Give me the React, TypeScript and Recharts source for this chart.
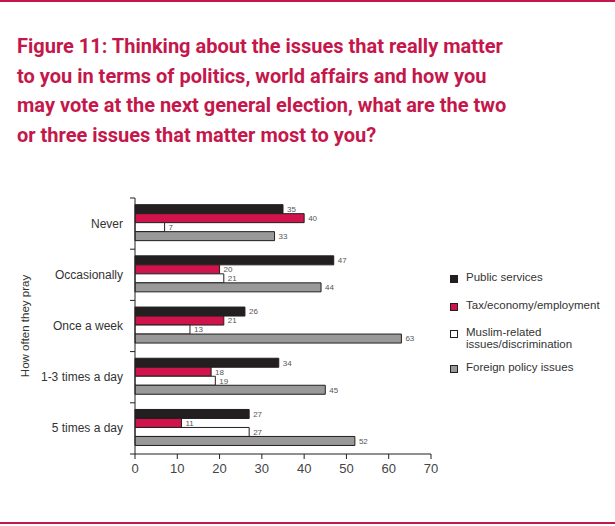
import React from "react";
import { Bar, BarChart, LabelList, XAxis, YAxis } from "recharts";

const categories = ["Never", "Occasionally", "Once a week", "1-3 times a day", "5 times a day"];
const publicServices = [35, 47, 26, 34, 27];
const taxEconomy = [40, 20, 21, 18, 11];
const muslimIssues = [7, 21, 13, 19, 27];
const foreignPolicy = [33, 44, 63, 45, 52];
const xTicks = [0, 10, 20, 30, 40, 50, 60, 70];

const series = [
  { key: "public", name: "Public services", color: "#231f20", values: publicServices },
  { key: "tax", name: "Tax/economy/employment", color: "#d0134a", values: taxEconomy },
  { key: "muslim", name: ["Muslim-related", "issues/discrimination"], color: "#ffffff", values: muslimIssues },
  { key: "foreign", name: "Foreign policy issues", color: "#999999", values: foreignPolicy },
];

const data = categories.map((c, i) => {
  const row: Record<string, string | number> = { name: c };
  series.forEach((s) => (row[s.key] = s.values[i]));
  return row;
});

const CRIMSON = "#c4174b";
const W = 615;
const H = 526;
const PLOT_TOP = 198;
const PLOT_BOTTOM = 454;
const PLOT_LEFT = 135;
const PLOT_RIGHT = 431;
const Y_AXIS_W = 110;
const X_AXIS_H = 30;
const BAND = (PLOT_BOTTOM - PLOT_TOP) / categories.length;

// category ticks sit on the band edges, labels at the band centre
function CategoryTick(props: any) {
  const { y, payload, index } = props;
  const top = y - BAND / 2;
  const isLast = index === categories.length - 1;
  return (
    <g>
      <line x1={PLOT_LEFT - 5} x2={PLOT_LEFT} y1={top} y2={top} stroke="#231f20" />
      {isLast ? <line x1={PLOT_LEFT - 5} x2={PLOT_LEFT} y1={top + BAND} y2={top + BAND} stroke="#231f20" /> : null}
      <text x={PLOT_LEFT - 12} y={y} dy={4} textAnchor="end" fontSize={12} fill="#333">
        {payload.value}
      </text>
    </g>
  );
}

function LegendBox() {
  const tops = [271, 299, 326, 361];
  return (
    <div style={{ position: "absolute", left: 450, top: 0 }}>
      {series.map((s, i) => (
        <div key={s.key} style={{ position: "absolute", top: tops[i], left: 0, display: "flex", alignItems: "flex-start", whiteSpace: "nowrap" }}>
          <div
            style={{
              width: 6,
              height: 6,
              marginTop: 3.5,
              marginRight: 8,
              background: s.color,
              border: "1px solid #231f20",
            }}
          />
          <div style={{ fontSize: 11.5, color: "#333", lineHeight: "12px" }}>
            {Array.isArray(s.name) ? s.name.map((l) => <div key={l}>{l}</div>) : s.name}
          </div>
        </div>
      ))}
    </div>
  );
}

export default function App() {
  return (
    <div style={{ position: "relative", width: W, height: H, background: "#fff", fontFamily: "'Liberation Sans', Arial, sans-serif", overflow: "hidden" }}>
      <style>{`body{margin:0}`}</style>
      <div style={{ position: "absolute", left: 0, top: 0, width: W, height: 1.5, background: CRIMSON }} />
      <div style={{ position: "absolute", left: 0, top: 522, width: W, height: 1.5, background: CRIMSON }} />
      <div
        style={{
          position: "absolute",
          left: 17,
          top: 32,
          width: 598,
          color: CRIMSON,
          fontFamily: "Roboto, sans-serif",
          fontSize: 20,
          fontWeight: 700,
          lineHeight: "29.5px",
          whiteSpace: "nowrap",
        }}
      >
        Figure 11: Thinking about the issues that really matter
        <br />
        to you in terms of politics, world affairs and how you
        <br />
        may vote at the next general election, what are the two
        <br />
        or three issues that matter most to you?
      </div>

      <div style={{ position: "absolute", left: 0, top: 0 }}>
        <BarChart
          width={W}
          height={H}
          data={data}
          layout="vertical"
          margin={{ top: PLOT_TOP, right: W - PLOT_RIGHT, bottom: H - PLOT_BOTTOM - X_AXIS_H, left: PLOT_LEFT - Y_AXIS_W }}
          barCategoryGap="13%"
          barGap={0}
        >
          <XAxis
            type="number"
            domain={[0, 70]}
            ticks={xTicks}
            height={X_AXIS_H}
            tickSize={5}
            tickMargin={5}
            tick={{ fontSize: 13, fill: "#444" }}
            stroke="#231f20"
            interval={0}
          />
          <YAxis
            type="category"
            dataKey="name"
            width={Y_AXIS_W}
            tickLine={false}
            stroke="#231f20"
            tick={<CategoryTick />}
            interval={0}
          />
          {series.map((s) => (
            <Bar key={s.key} dataKey={s.key} fill={s.color} stroke="#231f20" strokeWidth={1} isAnimationActive={false}>
              <LabelList dataKey={s.key} position="right" offset={4} fontSize={8} fill="#555" />
            </Bar>
          ))}
        </BarChart>
      </div>

      <div
        style={{
          position: "absolute",
          left: 25,
          top: (PLOT_TOP + PLOT_BOTTOM) / 2,
          transform: "translate(-50%, -50%) rotate(-90deg)",
          fontSize: 11.5,
          color: "#333",
          whiteSpace: "nowrap",
        }}
      >
        How often they pray
      </div>

      <LegendBox />
    </div>
  );
}
